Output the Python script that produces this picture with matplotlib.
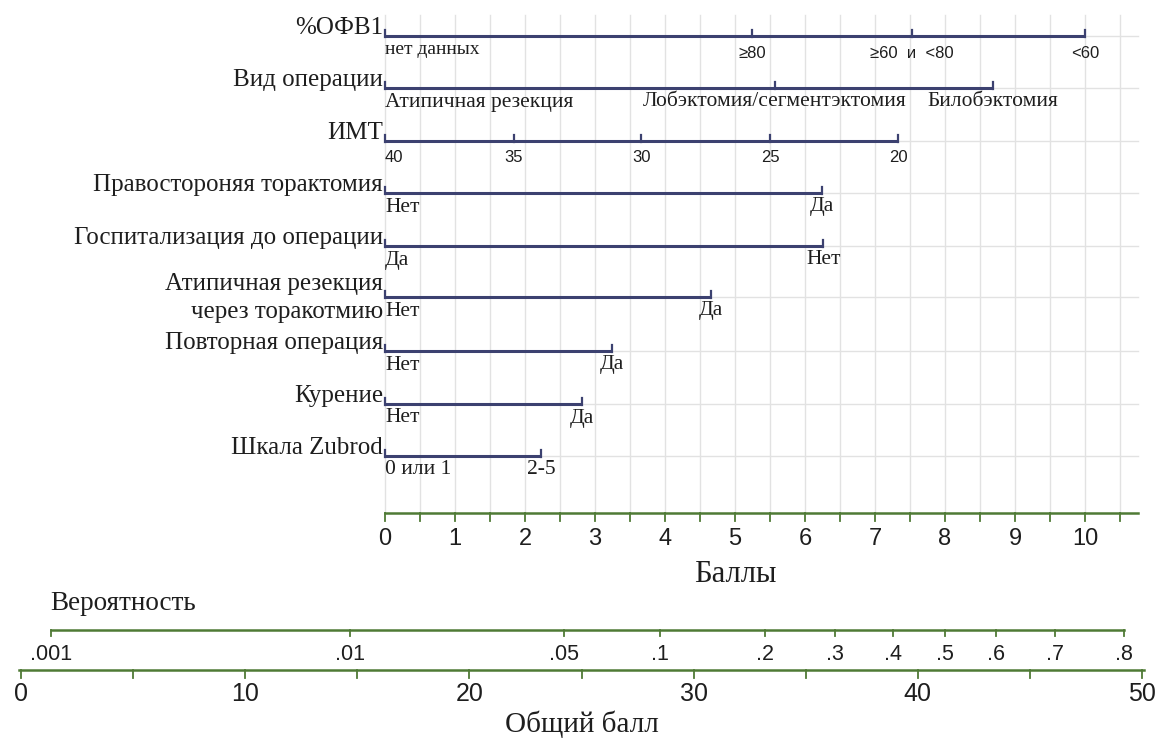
import matplotlib.pyplot as plt

# nomogram rows: label, tick positions (points), tick labels
row_names = ["%ОФВ1", "Вид операции", "ИМТ", "Правостороняя торактомия",
             "Госпитализация до операции", "Атипичная резекция\nчерез торакотмию",
             "Повторная операция", "Курение", "Шкала Zubrod"]
row_points = [
    [0, 5.24, 7.53, 10.0],
    [0, 5.57, 8.69],
    [0, 1.84, 3.66, 5.5, 7.33],
    [0, 6.24],
    [0, 6.26],
    [0, 4.66],
    [0, 3.24],
    [0, 2.81],
    [0, 2.23],
]
row_labels = [
    ["нет данных", "≥80", "≥60  и  <80", "<60"],
    ["Атипичная резекция", "Лобэктомия/сегментэктомия", "Билобэктомия"],
    ["40", "35", "30", "25", "20"],
    ["Нет", "Да"],
    ["Да", "Нет"],
    ["Нет", "Да"],
    ["Нет", "Да"],
    ["Нет", "Да"],
    ["0 или 1", "2-5"],
]

points_ticks = [0, 1, 2, 3, 4, 5, 6, 7, 8, 9, 10]
prob_labels = [".001", ".01", ".05", ".1", ".2", ".3", ".4", ".5", ".6", ".7", ".8"]
prob_total = [1.34, 14.67, 24.2, 28.5, 33.2, 36.3, 38.9, 41.2, 43.5, 46.1, 49.2]
total_ticks = [0, 10, 20, 30, 40, 50]

W, H = 1159, 742
NAVY = "#3c4170"
GREEN = "#4f7a35"
GRID = "#e2e2e2"
TXT = "#1e1e1e"
SERIF = "Liberation Serif"
SANS = "Liberation Sans"

fig = plt.figure(figsize=(W / 100, H / 100), dpi=100)

# top part: points scale, x in points, y in pixels
ax = fig.add_axes([0, 0, 1, 1])
ax.set_xlim(-385 / 70, (W - 385) / 70)
ax.set_ylim(H, 0)
ax.axis("off")

row_y = [36, 88, 141, 193, 246, 297, 351, 404, 456]
axis_y = 513

# grid
for i in range(22):
    ax.plot([i * 0.5, i * 0.5], [15, axis_y], color=GRID, lw=1, zorder=0)
for y in row_y:
    ax.plot([0, 10.75], [y, y], color=GRID, lw=1, zorder=0)

for name, pts, labs, y in zip(row_names, row_points, row_labels, row_y):
    ax.plot([pts[0], pts[-1]], [y, y], color=NAVY, lw=2.2, solid_capstyle="butt", zorder=2)
    for p in pts:
        ax.plot([p, p], [y + 1, y - 6], color=NAVY, lw=1.6, zorder=2)
    numeric = name in ("%ОФВ1", "ИМТ")
    for j, (p, lab) in enumerate(zip(pts, labs)):
        ha = "left" if j == 0 else "center"
        if name == "%ОФВ1" and j == 0:
            fs, fam, dy = 14, SERIF, 13
        elif numeric:
            fs, fam, dy = 12, SANS, 17
        else:
            fs, fam, dy = 15.5, SERIF, 14
        ax.text(p, y + dy, lab, ha=ha, va="center", fontsize=fs, family=fam, color=TXT)
    if "\n" in name:
        ax.text(-0.03, y + 1, name, ha="right", va="center",
                fontsize=18, family=SERIF, color=TXT, linespacing=1.3)
    else:
        ax.text(-0.03, y - 2, name, ha="right", va="baseline",
                fontsize=18, family=SERIF, color=TXT)

# points axis
ax.plot([0, 10.75], [axis_y, axis_y], color=GREEN, lw=1.8)
for i in range(22):
    ax.plot([i * 0.5, i * 0.5], [axis_y, axis_y + 8], color=GREEN, lw=1.3)
for t in points_ticks:
    ax.text(t, 539, str(t), ha="center", va="center", fontsize=17, family=SANS, color=TXT)
ax.text(5, 575, "Баллы", ha="center", va="center", fontsize=22, family=SERIF, color=TXT)

# bottom part: total points scale
bx = fig.add_axes([0, 0, 1, 1])
bx.set_xlim(-21 / 22.42, (W - 21) / 22.42)
bx.set_ylim(H, 0)
bx.axis("off")
bx.patch.set_alpha(0)

prob_y = 630
total_y = 670
bx.text(prob_total[0] - 0.05, 604, "Вероятность", ha="left", va="center",
        fontsize=19.5, family=SERIF, color=TXT)
bx.plot([prob_total[0], prob_total[-1]], [prob_y, prob_y], color=GREEN, lw=1.8)
for p, lab in zip(prob_total, prob_labels):
    bx.plot([p, p], [prob_y, prob_y + 6], color=GREEN, lw=1.3)
    bx.text(p, 654, lab, ha="center", va="center", fontsize=15.5, family=SANS, color=TXT)

bx.plot([-0.1, 50.1], [total_y, total_y], color=GREEN, lw=1.8)
for t in range(0, 51, 5):
    bx.plot([t, t], [total_y, total_y + 8], color=GREEN, lw=1.3)
for t in total_ticks:
    bx.text(t, 694, str(t), ha="center", va="center", fontsize=18, family=SANS, color=TXT)
bx.text(25, 724, "Общий балл", ha="center", va="center", fontsize=21, family=SERIF, color=TXT)

fig.savefig("out.png", dpi=100, facecolor="white")
